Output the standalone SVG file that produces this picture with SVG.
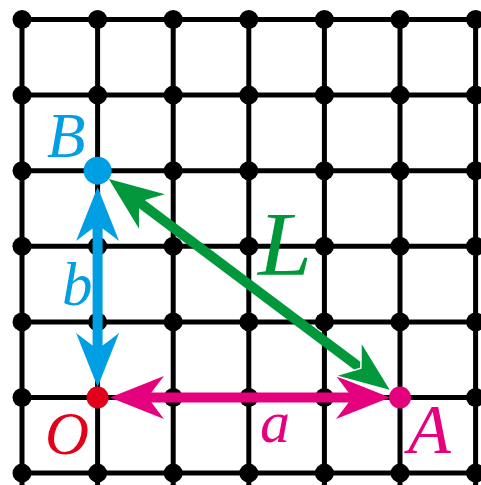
<svg xmlns="http://www.w3.org/2000/svg" width="481" height="485" viewBox="0 0 481 485">
<style>
.g{stroke:#000;stroke-width:5;fill:none}
.d{fill:#000}
.lbl{font-family:"Liberation Serif",serif;font-style:italic;font-weight:normal}
</style>
<defs>
<path id="hd" d="M0,0 L-54,-21.5 Q-42,-6 -38,0 Q-42,6 -54,21.5 Z"/>
</defs>
<rect width="481" height="485" fill="#fff"/>
<g id="grid">
<path class="g" d="M22,19.5H481M22,95.1H481M22,170.7H481M22,246.3H481M22,321.9H481M22,397.5H481M22,473.1H481M22,19.5V485M97.6,19.5V485M173.2,19.5V485M248.8,19.5V485M324.4,19.5V485M400,19.5V485M475.6,19.5V485"/>
<g class="d">
<circle cx="22" cy="19.5" r="9.5"/><circle cx="97.6" cy="19.5" r="9.5"/><circle cx="173.2" cy="19.5" r="9.5"/><circle cx="248.8" cy="19.5" r="9.5"/><circle cx="324.4" cy="19.5" r="9.5"/><circle cx="400" cy="19.5" r="9.5"/><circle cx="475.6" cy="19.5" r="9.5"/>
<circle cx="22" cy="95.1" r="9.5"/><circle cx="97.6" cy="95.1" r="9.5"/><circle cx="173.2" cy="95.1" r="9.5"/><circle cx="248.8" cy="95.1" r="9.5"/><circle cx="324.4" cy="95.1" r="9.5"/><circle cx="400" cy="95.1" r="9.5"/><circle cx="475.6" cy="95.1" r="9.5"/>
<circle cx="22" cy="170.7" r="9.5"/><circle cx="173.2" cy="170.7" r="9.5"/><circle cx="248.8" cy="170.7" r="9.5"/><circle cx="324.4" cy="170.7" r="9.5"/><circle cx="400" cy="170.7" r="9.5"/><circle cx="475.6" cy="170.7" r="9.5"/>
<circle cx="22" cy="246.3" r="9.5"/><circle cx="97.6" cy="246.3" r="9.5"/><circle cx="173.2" cy="246.3" r="9.5"/><circle cx="248.8" cy="246.3" r="9.5"/><circle cx="324.4" cy="246.3" r="9.5"/><circle cx="400" cy="246.3" r="9.5"/><circle cx="475.6" cy="246.3" r="9.5"/>
<circle cx="22" cy="321.9" r="9.5"/><circle cx="97.6" cy="321.9" r="9.5"/><circle cx="173.2" cy="321.9" r="9.5"/><circle cx="248.8" cy="321.9" r="9.5"/><circle cx="324.4" cy="321.9" r="9.5"/><circle cx="400" cy="321.9" r="9.5"/><circle cx="475.6" cy="321.9" r="9.5"/>
<circle cx="22" cy="397.5" r="9.5"/><circle cx="173.2" cy="397.5" r="9.5"/><circle cx="248.8" cy="397.5" r="9.5"/><circle cx="324.4" cy="397.5" r="9.5"/><circle cx="475.6" cy="397.5" r="9.5"/>
<circle cx="22" cy="473.1" r="9.5"/><circle cx="97.6" cy="473.1" r="9.5"/><circle cx="173.2" cy="473.1" r="9.5"/><circle cx="248.8" cy="473.1" r="9.5"/><circle cx="324.4" cy="473.1" r="9.5"/><circle cx="400" cy="473.1" r="9.5"/><circle cx="475.6" cy="473.1" r="9.5"/>
</g>
</g>
<g id="connectors">
<g id="arrow-b" fill="#009FE3">
<line x1="97.6" y1="215" x2="97.6" y2="360" stroke="#009FE3" stroke-width="10"/>
<use href="#hd" transform="translate(97.6,187) rotate(-90)"/>
<use href="#hd" transform="translate(97.6,387) rotate(90)"/>
</g>
<g id="arrow-a" fill="#E5007E">
<line x1="140" y1="397.5" x2="360" y2="397.5" stroke="#E5007E" stroke-width="10"/>
<use href="#hd" transform="translate(110,397.5) rotate(180)"/>
<use href="#hd" transform="translate(390,397.5)"/>
</g>
<g id="arrow-L" fill="#00983A">
<line x1="135" y1="199" x2="365" y2="371.5" stroke="#00983A" stroke-width="10"/>
<use href="#hd" transform="translate(108.8,179.1) rotate(216.87)"/>
<use href="#hd" transform="translate(391.2,390.9) rotate(36.87)" stroke="#fff" stroke-width="1.5"/>
</g>
</g>
<g id="node-B">
<circle cx="97.6" cy="170.7" r="14" fill="#009FE3"/>
<text class="lbl" x="47" y="157" font-size="63" fill="#009FE3">B</text>
</g>
<g id="node-O">
<circle cx="97.6" cy="397.5" r="11" fill="#E2001A"/>
<text class="lbl" x="45" y="454" font-size="61" fill="#E2001A">O</text>
</g>
<g id="node-A">
<circle cx="400" cy="397.5" r="11" fill="#E5007E"/>
<text class="lbl" x="408" y="453" font-size="70" fill="#E5007E">A</text>
</g>
<text id="label-b" class="lbl" x="62" y="305" font-size="61" fill="#009FE3">b</text>
<text id="label-a" class="lbl" x="260" y="442" font-size="60" fill="#E5007E">a</text>
<text id="label-L" class="lbl" x="258" y="275" font-size="90" fill="#00983A" textLength="54" lengthAdjust="spacingAndGlyphs">L</text>
</svg>
